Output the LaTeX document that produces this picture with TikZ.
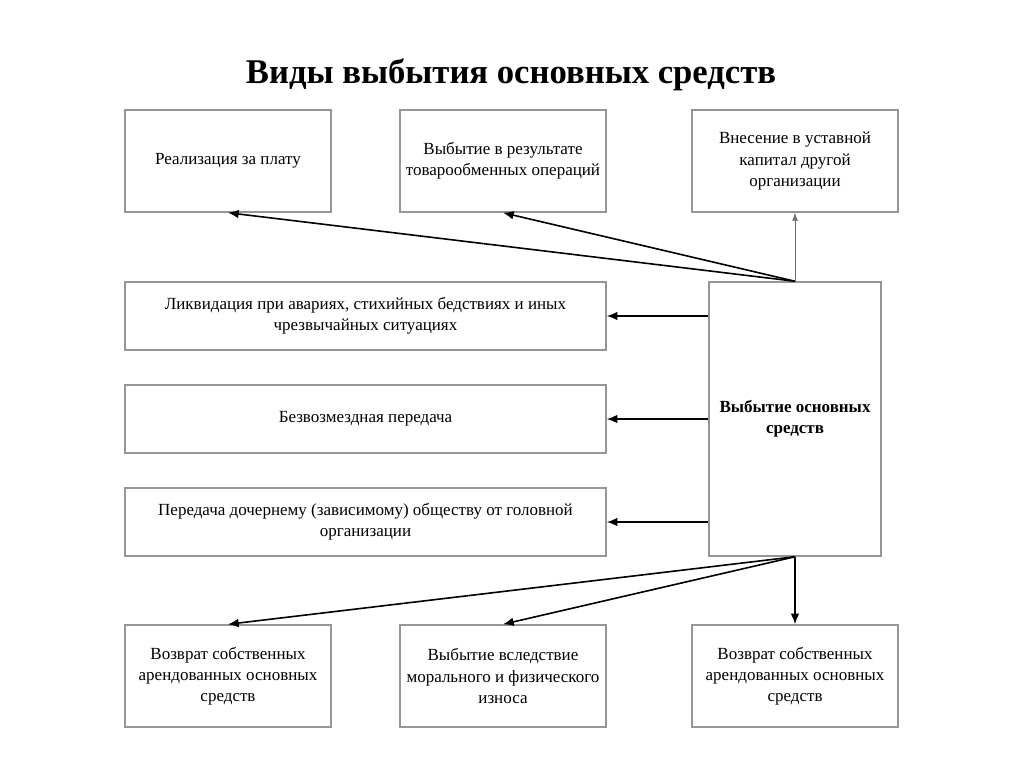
\documentclass[tikz,border=0pt]{standalone}
\usepackage{fontspec}
\setmainfont{Liberation Serif}
\usepackage{tikz}
\usetikzlibrary{arrows, arrows.meta, positioning, calc}

\begin{document}
\begin{tikzpicture}[x=0.75pt, y=-0.75pt]
\tikzstyle{vid} = [rectangle, draw={rgb,255:red,150;green,150;blue,150}, line width=1.1pt, text centered, align=center, inner sep=0pt, font=\fontsize{12.75}{15.9}\selectfont]
\tikzstyle{small} = [vid, minimum width=154.5pt, minimum height=76.5pt]
\tikzstyle{wide} = [vid, minimum width=360.75pt, minimum height=51pt]
\tikzstyle{arrow} = [line width=1.2pt, -{Latex[length=8pt,width=6.5pt]}]
\tikzstyle{thin} = [line width=0.7pt, draw={rgb,255:red,110;green,110;blue,110}, -{Latex[length=6pt,width=4.5pt]}]

\useasboundingbox (0,0) rectangle (1024,767);

\node[font=\fontsize{26}{30}\selectfont\bfseries] (title) at (511,75) {Виды выбытия основных средств};

\node[small] (plata) at (228,161) {Реализация за плату};
\node[small] (obmen) at (503,161) {Выбытие в результате\\товарообменных операций};
\node[small] (kapital) at (795,161) {Внесение в уставной\\капитал другой\\организации};

\node[wide] (likvid) at (365.5,316) {Ликвидация при авариях, стихийных бедствиях и иных\\чрезвычайных ситуациях};
\node[wide] (bezvozm) at (365.5,419) {Безвозмездная передача};
\node[wide] (dochern) at (365.5,522) {Передача дочернему (зависимому) обществу от головной\\организации};

\node[vid, minimum width=129pt, minimum height=205.5pt, font=\fontsize{12.75}{15.9}\selectfont\bfseries] (vybytie) at (795,419) {Выбытие основных\\средств};

\node[small] (vozvrat1) at (228,676) {Возврат собственных\\арендованных основных\\средств};
\node[small] (iznos) at (503,676) {Выбытие вследствие\\морального и физического\\износа};
\node[small] (vozvrat2) at (795,676) {Возврат собственных\\арендованных основных\\средств};

\draw[arrow] (vybytie.north) -- (plata.south);
\draw[arrow] (vybytie.north) -- (obmen.south);
\draw[thin] (vybytie.north) -- (kapital.south);
\draw[arrow] (vybytie.west |- likvid) -- (likvid.east);
\draw[arrow] (vybytie.west |- bezvozm) -- (bezvozm.east);
\draw[arrow] (vybytie.west |- dochern) -- (dochern.east);
\draw[arrow] (vybytie.south) -- (vozvrat1.north);
\draw[arrow] (vybytie.south) -- (iznos.north);
\draw[arrow] (vybytie.south) -- (vozvrat2.north);
\end{tikzpicture}
\end{document}
